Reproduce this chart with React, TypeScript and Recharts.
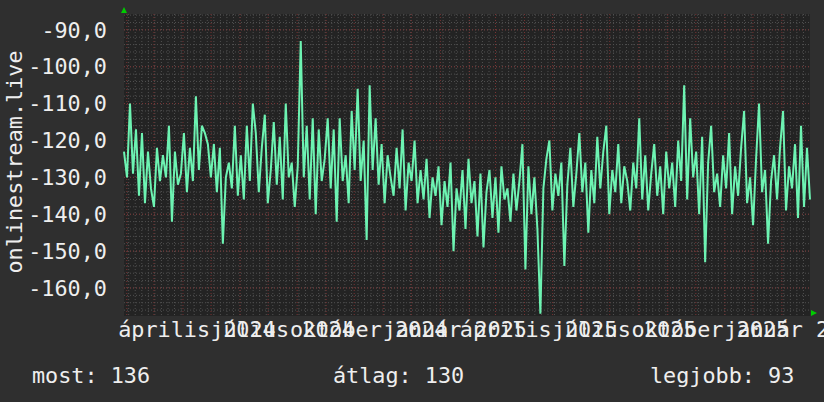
import { LineChart, Line, XAxis, YAxis, CartesianGrid } from "recharts";

const W = 824;
const H = 402;
const PLOT = { left: 124, top: 14, right: 810, bottom: 316 };
const FONT = '"DejaVu Sans Mono", monospace';
const FS = 21.8;
const TEXT = "#eeeeee";

// time axis: days counted from the first sample
const START = Date.UTC(2024, 0, 29);
const SPAN_DAYS = 733;
const dayOf = (y: number, m: number, d: number) => (Date.UTC(y, m, d) - START) / 86400000;

// readings, oldest first (evenly spaced over the span)
const readings = [
  -123, -130, -110, -129, -117, -135, -118, -137, -123, -133,
  -138, -122, -131, -124, -130, -116, -142, -123, -132, -129,
  -118, -134, -122, -131, -108, -128, -116, -118, -121, -130,
  -121, -134, -122, -148, -130, -126, -133, -116, -135, -124,
  -136, -116, -131, -110, -118, -134, -122, -113, -137, -128,
  -115, -132, -119, -136, -110, -130, -126, -138, -127, -93,
  -130, -116, -136, -114, -140, -117, -131, -125, -114, -133,
  -117, -142, -114, -131, -124, -137, -112, -128, -106, -131,
  -120, -147, -105, -128, -114, -132, -121, -137, -124, -130,
  -135, -122, -133, -117, -139, -126, -131, -120, -137, -128,
  -136, -125, -141, -130, -135, -127, -143, -131, -138, -126,
  -150, -133, -139, -128, -144, -125, -137, -131, -146, -129,
  -149, -134, -128, -141, -130, -145, -127, -136, -133, -142,
  -129, -139, -131, -121, -155, -127, -140, -130, -144, -167,
  -133, -125, -120, -139, -129, -135, -126, -154, -132, -122,
  -138, -129, -118, -134, -126, -145, -128, -137, -119, -133,
  -123, -116, -140, -128, -134, -121, -137, -127, -131, -139,
  -126, -133, -114, -136, -124, -139, -129, -121, -135, -127,
  -140, -123, -133, -126, -138, -120, -131, -105, -136, -114,
  -130, -123, -140, -119, -153, -126, -116, -134, -129, -138,
  -124, -133, -118, -140, -127, -135, -122, -112, -137, -130,
  -143, -125, -110, -134, -128, -148, -131, -124, -136, -122,
  -112, -139, -127, -133, -121, -141, -116, -138, -122, -136,
];

const yTicks = [-90, -100, -110, -120, -130, -140, -150, -160];
const yDomain = [-167.6, -85.7];

const tickMonths = [
  [2024, 3], [2024, 6], [2024, 9], [2025, 0],
  [2025, 3], [2025, 6], [2025, 9], [2026, 0],
];
const tickLabels = [
  "április 2024", "július 2024", "október 2024", "január 2025",
  "április 2025", "július 2025", "október 2025", "január 2026",
];

const summary = [
  ["most", "136"],
  ["átlag", "130"],
  ["legjobb", "93"],
];
const summaryX = [32, 333, 650];

const data = readings.map((v, i) => ({
  day: (i * SPAN_DAYS) / (readings.length - 1),
  value: v,
}));

// label sits in the middle of its month
const labelDays = tickMonths.map(([y, m]) => (dayOf(y, m, 1) + dayOf(y, m + 1, 1)) / 2);

const monthLines: number[] = [];
for (let k = 0; k < 24; k++) monthLines.push(dayOf(2024, 1 + k, 1));
const weekLines: number[] = [];
for (let d = 5; d < SPAN_DAYS; d += 7) weekLines.push(d);
const minorY: number[] = [];
for (let v = -86; v >= -166; v -= 2) minorY.push(v);

const fmtY = (v: number) => v.toFixed(1).replace(".", ",");
const fmtX = (d: number) => {
  const i = labelDays.findIndex((x) => Math.abs(x - d) < 0.01);
  return i >= 0 ? tickLabels[i] : "";
};

export default function App() {
  return (
    <div style={{ position: "relative", width: W, height: H, background: "#2f2f2f" }}>
      <style>{"body{margin:0}"}</style>
      <LineChart
        width={W}
        height={H}
        data={data}
        margin={{ top: PLOT.top, right: W - PLOT.right, left: 0, bottom: 56 }}
      >
        <CartesianGrid
          fill="#232323"
          stroke="#505050"
          strokeDasharray="1 2"
          horizontalValues={minorY}
          verticalValues={weekLines}
        />
        <CartesianGrid
          stroke="#7a3434"
          strokeDasharray="1 2"
          horizontalValues={yTicks}
          verticalValues={monthLines}
        />
        <XAxis
          dataKey="day"
          type="number"
          domain={[0, SPAN_DAYS]}
          ticks={labelDays}
          interval={0}
          tickFormatter={fmtX}
          tickLine={false}
          tickSize={0}
          tickMargin={6}
          axisLine={false}
          height={30}
          tick={{ fill: TEXT, fontSize: FS, fontFamily: FONT }}
        />
        <YAxis
          type="number"
          domain={yDomain}
          ticks={yTicks}
          interval={0}
          tickFormatter={fmtY}
          tickLine={false}
          tickSize={0}
          tickMargin={17}
          axisLine={false}
          width={PLOT.left}
          allowDataOverflow
          tick={{ fill: TEXT, fontSize: FS, fontFamily: FONT }}
        />
        <Line
          type="linear"
          dataKey="value"
          stroke="#6df3b2"
          strokeWidth={2}
          dot={false}
          activeDot={false}
          isAnimationActive={false}
        />
      </LineChart>
      <svg
        width={W}
        height={H}
        style={{ position: "absolute", left: 0, top: 0, pointerEvents: "none" }}
      >
        <polygon
          points={`${PLOT.left - 3},${PLOT.top - 1} ${PLOT.left + 3},${PLOT.top - 1} ${PLOT.left},${PLOT.top - 7}`}
          fill="#00cc00"
        />
        <polygon
          points={`${PLOT.right + 1},${PLOT.bottom - 6} ${PLOT.right + 1},${PLOT.bottom} ${PLOT.right + 7},${PLOT.bottom - 3}`}
          fill="#00cc00"
        />
        <text
          x={22}
          y={162}
          transform="rotate(-90 22 162)"
          textAnchor="middle"
          fill={TEXT}
          fontFamily={FONT}
          fontSize={FS}
        >
          onlinestream.live
        </text>
        {summary.map(([k, v], i) => (
          <text key={k} x={summaryX[i]} y={383} fill={TEXT} fontFamily={FONT} fontSize={FS}>
            {`${k}: ${v}`}
          </text>
        ))}
      </svg>
    </div>
  );
}
